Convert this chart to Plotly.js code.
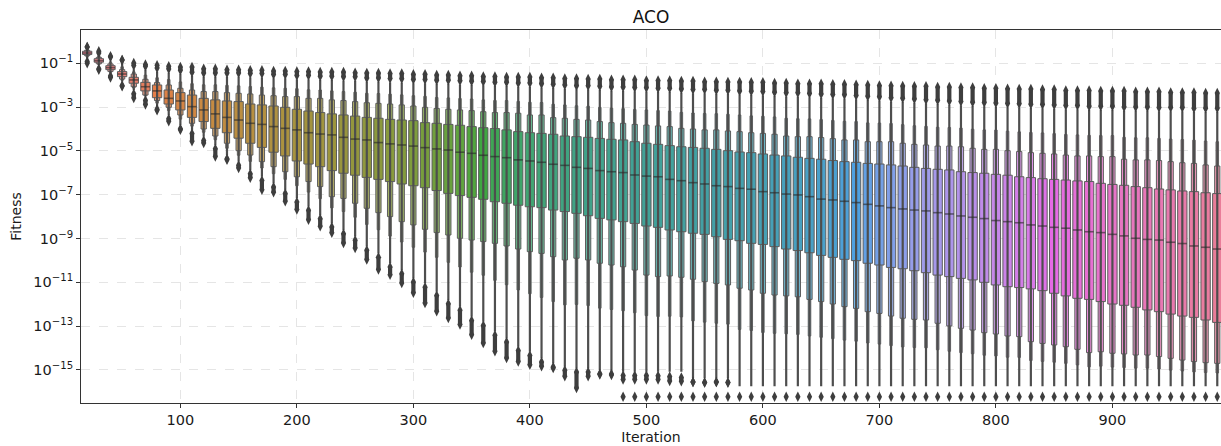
<!DOCTYPE html>
<html><head><meta charset="utf-8">
<script src="https://cdn.plot.ly/plotly-3.0.1.min.js"></script>
<style>html,body{margin:0;padding:0;background:#fff;}#chart{width:1221px;height:446px;}</style>
</head><body><div id="chart"></div>
<script>
// Iteration categories
const cats = [20,30,40,50,60,70,80,90,100,110,
 120,130,140,150,160,170,180,190,200,210,
 220,230,240,250,260,270,280,290,300,310,
 320,330,340,350,360,370,380,390,400,410,
 420,430,440,450,460,470,480,490,500,510,
 520,530,540,550,560,570,580,590,600,610,
 620,630,640,650,660,670,680,690,700,710,
 720,730,740,750,760,770,780,790,800,810,
 820,830,840,850,860,870,880,890,900,910,
 920,930,940,950,960,970,980,990];

// All values below are log10(Fitness)
const medianLog = [-0.53,-0.88,-1.20,-1.49,-1.76,-2.07,-2.26,-2.60,-2.72,-2.98,
 -3.13,-3.31,-3.47,-3.59,-3.74,-3.79,-3.89,-3.97,-4.04,-4.17,
 -4.23,-4.27,-4.38,-4.46,-4.50,-4.62,-4.68,-4.73,-4.78,-4.85,
 -4.91,-4.96,-5.06,-5.11,-5.20,-5.26,-5.31,-5.41,-5.46,-5.52,
 -5.61,-5.66,-5.75,-5.80,-5.90,-5.95,-5.99,-6.10,-6.15,-6.18,
 -6.30,-6.36,-6.45,-6.51,-6.59,-6.63,-6.71,-6.75,-6.86,-6.91,
 -6.97,-7.01,-7.09,-7.20,-7.24,-7.30,-7.36,-7.44,-7.51,-7.59,
 -7.65,-7.70,-7.74,-7.82,-7.88,-7.97,-8.03,-8.09,-8.18,-8.23,
 -8.28,-8.38,-8.43,-8.49,-8.53,-8.61,-8.69,-8.73,-8.81,-8.88,
 -8.99,-9.04,-9.07,-9.17,-9.23,-9.34,-9.40,-9.48];

const q3Log = [-0.45,-0.79,-1.11,-1.38,-1.64,-1.87,-1.99,-2.22,-2.34,-2.45,
 -2.60,-2.67,-2.72,-2.75,-2.86,-2.90,-2.95,-3.01,-3.10,-3.18,
 -3.25,-3.31,-3.36,-3.41,-3.47,-3.51,-3.56,-3.59,-3.62,-3.71,
 -3.74,-3.79,-3.83,-3.89,-3.94,-3.98,-4.04,-4.12,-4.17,-4.20,
 -4.24,-4.32,-4.35,-4.38,-4.43,-4.47,-4.50,-4.58,-4.65,-4.70,
 -4.76,-4.81,-4.84,-4.88,-4.93,-4.99,-5.05,-5.08,-5.14,-5.19,
 -5.23,-5.29,-5.34,-5.38,-5.44,-5.49,-5.52,-5.57,-5.60,-5.64,
 -5.69,-5.75,-5.80,-5.84,-5.87,-5.95,-5.99,-6.02,-6.07,-6.11,
 -6.18,-6.22,-6.27,-6.30,-6.33,-6.37,-6.40,-6.48,-6.53,-6.57,
 -6.63,-6.68,-6.74,-6.78,-6.83,-6.86,-6.91,-6.95];

const q1Log = [-0.60,-0.95,-1.29,-1.61,-1.91,-2.26,-2.57,-2.86,-3.13,-3.47,
 -3.66,-3.97,-4.17,-4.42,-4.65,-4.84,-5.06,-5.23,-5.46,-5.60,
 -5.72,-5.90,-6.02,-6.11,-6.21,-6.30,-6.40,-6.51,-6.59,-6.68,
 -6.81,-6.94,-7.04,-7.12,-7.21,-7.32,-7.39,-7.48,-7.55,-7.59,
 -7.70,-7.77,-7.85,-7.96,-8.08,-8.15,-8.23,-8.31,-8.43,-8.49,
 -8.61,-8.69,-8.76,-8.81,-8.92,-9.04,-9.10,-9.22,-9.27,-9.37,
 -9.48,-9.55,-9.65,-9.77,-9.86,-9.95,-10.01,-10.13,-10.21,-10.32,
 -10.38,-10.47,-10.56,-10.67,-10.74,-10.82,-10.89,-11.00,-11.12,-11.20,
 -11.24,-11.30,-11.38,-11.50,-11.62,-11.73,-11.78,-11.88,-11.99,-12.05,
 -12.14,-12.26,-12.34,-12.45,-12.54,-12.60,-12.72,-12.83];

// second letter value (12.5% / 87.5%)
const hi2Log = [-0.41,-0.73,-1.03,-1.29,-1.49,-1.73,-1.88,-1.99,-2.14,-2.22,
 -2.29,-2.29,-2.34,-2.37,-2.40,-2.45,-2.48,-2.52,-2.52,-2.60,
 -2.60,-2.67,-2.70,-2.75,-2.80,-2.83,-2.86,-2.90,-2.95,-3.01,
 -3.06,-3.10,-3.13,-3.16,-3.21,-3.25,-3.25,-3.28,-3.36,-3.36,
 -3.48,-3.51,-3.56,-3.59,-3.66,-3.71,-3.74,-3.79,-3.82,-3.86,
 -3.89,-3.97,-4.00,-4.04,-4.04,-4.09,-4.12,-4.17,-4.20,-4.24,
 -4.32,-4.35,-4.35,-4.39,-4.44,-4.50,-4.50,-4.58,-4.58,-4.58,
 -4.65,-4.70,-4.73,-4.78,-4.78,-4.81,-4.88,-4.93,-4.93,-4.99,
 -5.03,-5.08,-5.11,-5.14,-5.19,-5.23,-5.23,-5.26,-5.26,-5.38,
 -5.41,-5.41,-5.44,-5.49,-5.54,-5.57,-5.64,-5.69];

const lo2Log = [-0.65,-1.02,-1.37,-1.72,-2.07,-2.45,-2.70,-3.01,-3.36,-3.74,
 -4.00,-4.32,-4.65,-4.99,-5.19,-5.49,-5.72,-5.95,-6.18,-6.40,
 -6.63,-7.09,-7.17,-7.39,-7.62,-7.82,-8.00,-8.23,-8.38,-8.58,
 -8.73,-8.84,-8.99,-9.07,-9.14,-9.22,-9.34,-9.48,-9.60,-9.68,
 -9.83,-9.98,-9.90,-9.98,-10.13,-10.21,-10.29,-10.44,-10.67,-10.74,
 -10.71,-10.77,-10.86,-10.97,-11.05,-11.12,-11.27,-11.35,-11.50,-11.58,
 -11.62,-11.66,-11.78,-11.88,-11.99,-12.11,-12.19,-12.34,-12.42,-12.54,
 -12.64,-12.69,-12.72,-12.87,-12.99,-13.10,-13.18,-13.30,-13.36,-13.45,
 -13.48,-13.71,-13.79,-13.86,-13.94,-14.06,-14.21,-14.17,-14.24,-14.27,
 -14.32,-14.32,-14.39,-14.47,-14.55,-14.62,-14.67,-14.70];

// third letter value
const hi3Log = [-0.39,-0.68,-0.96,-1.16,-1.39,-1.54,-1.66,-1.74,-1.85,-1.93,
 -1.98,-1.98,-2.01,-2.03,-2.06,-2.09,-2.12,-2.14,-2.16,-2.21,
 -2.22,-2.26,-2.29,-2.32,-2.37,-2.38,-2.41,-2.44,-2.48,-2.51,
 -2.56,-2.58,-2.61,-2.63,-2.67,-2.70,-2.70,-2.74,-2.78,-2.79,
 -2.87,-2.90,-2.94,-2.96,-3.01,-3.05,-3.07,-3.11,-3.13,-3.16,
 -3.18,-3.24,-3.27,-3.29,-3.30,-3.33,-3.36,-3.40,-3.42,-3.45,
 -3.51,-3.53,-3.54,-3.57,-3.61,-3.65,-3.66,-3.72,-3.73,-3.75,
 -3.80,-3.85,-3.88,-3.92,-3.93,-3.96,-4.01,-4.04,-4.05,-4.10,
 -4.13,-4.16,-4.18,-4.21,-4.25,-4.27,-4.29,-4.30,-4.30,-4.38,
 -4.40,-4.40,-4.43,-4.46,-4.48,-4.51,-4.55,-4.58];

const lo3Log = [-0.70,-1.05,-1.41,-1.77,-2.13,-2.48,-2.82,-3.16,-3.55,-3.87,
 -4.15,-4.49,-4.88,-5.20,-5.48,-5.78,-6.04,-6.30,-6.59,-6.88,
 -7.18,-7.60,-7.77,-8.03,-8.36,-8.60,-8.89,-9.16,-9.40,-9.62,
 -9.86,-10.09,-10.30,-10.54,-10.68,-10.91,-11.11,-11.35,-11.52,-11.69,
 -11.88,-12.03,-12.01,-12.06,-12.18,-12.24,-12.30,-12.39,-12.52,-12.56,
 -12.55,-12.58,-12.76,-12.82,-12.87,-12.91,-13.15,-13.20,-13.29,-13.33,
 -13.35,-13.38,-13.45,-13.51,-13.57,-13.64,-13.69,-13.77,-13.82,-13.89,
 -13.95,-13.98,-13.99,-14.08,-14.15,-14.21,-14.26,-14.33,-14.36,-14.42,
 -14.43,-14.57,-14.61,-14.65,-14.70,-14.77,-14.86,-14.83,-14.87,-14.89,
 -14.92,-14.92,-14.96,-15.01,-15.05,-15.09,-15.12,-15.14];

// outermost letter values (ends of the thin tails)
const tailHiLog = [-0.36,-0.62,-0.88,-1.00,-1.27,-1.30,-1.38,-1.43,-1.49,-1.58,
 -1.61,-1.61,-1.61,-1.61,-1.64,-1.64,-1.68,-1.68,-1.73,-1.73,
 -1.76,-1.76,-1.79,-1.79,-1.84,-1.84,-1.87,-1.88,-1.91,-1.91,
 -1.94,-1.94,-1.97,-1.99,-2.00,-2.03,-2.03,-2.07,-2.07,-2.10,
 -2.13,-2.16,-2.19,-2.19,-2.22,-2.25,-2.25,-2.28,-2.29,-2.31,
 -2.31,-2.34,-2.37,-2.37,-2.40,-2.40,-2.43,-2.45,-2.46,-2.49,
 -2.52,-2.52,-2.55,-2.57,-2.60,-2.61,-2.64,-2.67,-2.70,-2.74,
 -2.77,-2.80,-2.83,-2.86,-2.89,-2.92,-2.95,-2.96,-2.98,-3.01,
 -3.02,-3.04,-3.05,-3.07,-3.10,-3.10,-3.13,-3.13,-3.13,-3.16,
 -3.16,-3.16,-3.19,-3.19,-3.19,-3.22,-3.22,-3.22];

const tailLoLog = [-0.77,-1.08,-1.46,-1.84,-2.22,-2.52,-2.98,-3.36,-3.82,-4.04,
 -4.35,-4.73,-5.19,-5.49,-5.87,-6.18,-6.48,-6.78,-7.16,-7.54,
 -7.93,-8.31,-8.61,-8.91,-9.37,-9.68,-10.13,-10.44,-10.82,-11.05,
 -11.43,-11.81,-12.11,-12.57,-12.80,-13.25,-13.56,-13.94,-14.17,-14.47,
 -14.70,-14.85,-14.93,-14.93,-15.00,-15.04,-15.08,-15.08,-15.08,-15.08,
 -15.08,-15.08,-15.38,-15.38,-15.38,-15.38,-15.75,-15.75,-15.75,-15.75,
 -15.75,-15.75,-15.75,-15.75,-15.75,-15.75,-15.75,-15.75,-15.75,-15.75,
 -15.75,-15.75,-15.75,-15.75,-15.75,-15.75,-15.75,-15.75,-15.75,-15.75,
 -15.75,-15.75,-15.75,-15.75,-15.75,-15.75,-15.75,-15.75,-15.75,-15.75,
 -15.75,-15.75,-15.75,-15.75,-15.75,-15.75,-15.75,-15.75];

// upper outliers: highest and lowest
const outHiMaxLog = [-0.26,-0.45,-0.68,-0.85,-0.99,-1.05,-1.09,-1.14,-1.17,-1.17,
 -1.25,-1.25,-1.29,-1.29,-1.32,-1.32,-1.35,-1.35,-1.37,-1.37,
 -1.40,-1.40,-1.40,-1.43,-1.44,-1.44,-1.47,-1.47,-1.50,-1.50,
 -1.54,-1.54,-1.57,-1.57,-1.60,-1.60,-1.63,-1.63,-1.63,-1.66,
 -1.66,-1.69,-1.69,-1.72,-1.72,-1.75,-1.75,-1.75,-1.78,-1.78,
 -1.78,-1.81,-1.81,-1.84,-1.84,-1.85,-1.85,-1.87,-1.87,-1.90,
 -1.90,-1.93,-1.93,-1.93,-1.96,-1.96,-1.98,-1.99,-2.01,-2.02,
 -2.04,-2.05,-2.05,-2.08,-2.08,-2.11,-2.11,-2.14,-2.14,-2.16,
 -2.17,-2.17,-2.20,-2.20,-2.24,-2.24,-2.24,-2.27,-2.27,-2.27,
 -2.30,-2.30,-2.30,-2.33,-2.33,-2.33,-2.36,-2.36];

const outHiMinLog = [-0.26,-0.53,-0.71,-0.85,-1.10,-1.13,-1.21,-1.26,-1.32,-1.41,
 -1.44,-1.44,-1.44,-1.44,-1.47,-1.47,-1.51,-1.51,-1.56,-1.56,
 -1.59,-1.59,-1.62,-1.62,-1.67,-1.67,-1.70,-1.71,-1.74,-1.74,
 -1.77,-1.77,-1.80,-1.82,-1.83,-1.86,-1.86,-1.90,-1.90,-1.93,
 -1.96,-1.99,-2.02,-2.02,-2.05,-2.08,-2.08,-2.11,-2.12,-2.14,
 -2.14,-2.17,-2.20,-2.20,-2.23,-2.23,-2.26,-2.28,-2.29,-2.32,
 -2.35,-2.35,-2.38,-2.40,-2.43,-2.44,-2.47,-2.50,-2.53,-2.57,
 -2.60,-2.63,-2.66,-2.69,-2.72,-2.75,-2.78,-2.79,-2.81,-2.84,
 -2.85,-2.87,-2.88,-2.90,-2.93,-2.93,-2.96,-2.96,-2.96,-2.99,
 -2.99,-2.99,-3.02,-3.02,-3.02,-3.05,-3.05,-3.05];

// lower outliers: highest and lowest (null where none)
const outLoMaxLog = [-0.92,-1.25,-1.58,-2.01,-2.39,-2.69,-3.10,-3.53,-3.99,-4.21,
 -4.52,-4.90,-5.36,-5.66,-6.04,-6.35,-6.65,-6.95,-7.33,-7.71,
 -8.10,-8.48,-8.78,-9.08,-9.54,-9.85,-10.30,-10.61,-10.99,-11.22,
 -11.60,-11.98,-12.28,-12.74,-12.97,-13.42,-13.73,-14.11,-14.34,-14.64,
 -14.87,-15.02,-15.10,-15.10,-15.17,-15.19,-15.25,-15.25,-15.25,-15.27,
 -15.30,-15.35,-15.55,-15.57,-15.55,-15.57,null,null,null,null,
 null,null,null,null,null,null,null,null,null,null,
 null,null,null,null,null,null,null,null,null,null,
 null,null,null,null,null,null,null,null,null,null,
 null,null,null,null,null,null,null,null];

const outLoMinLog = [-1.00,-1.29,-1.65,-2.05,-2.58,-2.88,-3.14,-3.65,-4.03,-4.56,
 -4.64,-5.25,-5.40,-5.78,-6.23,-6.77,-6.89,-7.30,-7.68,-8.14,
 -8.44,-8.74,-9.20,-9.43,-9.96,-10.42,-10.65,-11.03,-11.48,-11.94,
 -12.32,-12.63,-12.93,-13.39,-13.77,-14.15,-14.45,-14.61,-14.76,-14.83,
 -14.91,-15.29,-15.82,-15.29,-15.21,-15.23,-15.44,-15.44,-15.44,-15.44,
 -15.50,-15.52,-15.55,-15.57,-15.55,-15.57,null,null,null,null,
 null,null,null,null,null,null,null,null,null,null,
 null,null,null,null,null,null,null,null,null,null,
 null,null,null,null,null,null,null,null,null,null,
 null,null,null,null,null,null,null,null];

// isolated lowest outlier (floor value)
const floorLog = [null,null,null,null,null,null,null,null,null,null,
 null,null,null,null,null,null,null,null,null,null,
 null,null,null,null,null,null,null,null,null,null,
 null,null,null,null,null,null,null,null,null,null,
 null,null,null,null,null,null,-16.22,-16.22,-16.22,-16.22,
 -16.22,-16.22,-16.22,-16.22,-16.22,-16.22,-16.22,-16.22,-16.22,-16.22,
 -16.22,-16.22,-16.22,-16.22,-16.22,-16.22,-16.22,-16.22,-16.22,-16.22,
 -16.22,-16.22,-16.22,-16.22,-16.22,-16.22,-16.22,-16.22,-16.22,-16.22,
 -16.22,-16.22,-16.22,-16.22,-16.22,-16.22,-16.22,-16.22,-16.22,-16.22,
 -16.22,-16.22,-16.22,-16.22,-16.22,-16.22,-16.22,-16.22];

const yTickExp = [-1,-3,-5,-7,-9,-11,-13,-15];
const xTicks = [100,200,300,400,500,600,700,800,900];

// ---------- colours: seaborn husl palette, desaturated 0.75 ----------
const M = [[3.2406,-1.5372,-0.4986],[-0.9689,1.8758,0.0415],[0.0557,-0.2040,1.0570]];
function maxChroma(L,H){
  const hr=H*Math.PI/180, sH=Math.sin(hr), cH=Math.cos(hr);
  const sub1=Math.pow(L+16,3)/1560896, sub2=sub1>0.008856?sub1:L/903.3;
  let res=Infinity;
  for(const [m1,m2,m3] of M){
    const top=(0.99915*m1+1.05122*m2+1.14460*m3)*sub2;
    const rb=0.86330*m3-0.17266*m2, lb=0.12949*m3-0.38848*m1;
    const bottom=(rb*sH+lb*cH)*sub2;
    for(const t of [0,1]){
      const C=L*(top-1.05122*t)/(bottom+0.17266*sH*t);
      if(C>0&&C<res) res=C;
    }
  }
  return res;
}
function huslToRgb(H,S,L){
  const C=maxChroma(L,H)/100*S, hr=H*Math.PI/180;
  const U=Math.cos(hr)*C, V=Math.sin(hr)*C;
  const t=(L+16)/116, Y=Math.pow(t,3)>0.008856?Math.pow(t,3):(116*t-16)/903.3;
  const vU=U/(13*L)+0.19784, vV=V/(13*L)+0.46834;
  const X=-(9*Y*vU)/((vU-4)*vV-vU*vV);
  const Z=(9*Y-15*vV*Y-vV*X)/(3*vV);
  return M.map(r=>{const c=r[0]*X+r[1]*Y+r[2]*Z;const v=c<=0.0031308?12.92*c:1.055*Math.pow(c,1/2.4)-0.055;return Math.min(1,Math.max(0,v));});
}
function hslToRgb(h,s,l){
  const q=l<0.5?l*(1+s):l+s-l*s, p=2*l-q;
  const f=t=>{t=((t%1)+1)%1;if(t<1/6)return p+(q-p)*6*t;if(t<0.5)return q;if(t<2/3)return p+(q-p)*(2/3-t)*6;return p;};
  return [f(h+1/3),f(h),f(h-1/3)];
}
function desat(rgb,prop){
  const [r,g,b]=rgb, mx=Math.max(r,g,b), mn=Math.min(r,g,b), l=(mx+mn)/2;
  if(mx===mn) return rgb.slice();
  const d=mx-mn, s=l<=0.5?d/(mx+mn):d/(2-mx-mn);
  let h; if(mx===r)h=((g-b)/d)/6; else if(mx===g)h=(2+(b-r)/d)/6; else h=(4+(r-g)/d)/6;
  h=((h%1)+1)%1;
  return hslToRgb(h,s*prop,l);
}
const mixW=(rgb,t)=>rgb.map(v=>v+(1-v)*t);
const css=rgb=>'rgb('+rgb.map(v=>Math.round(v*255)).join(',')+')';
const N=cats.length;
const baseCol=cats.map((c,i)=>desat(huslToRgb((((i/N)+0.01)%1)*359,89.1,64.35),0.8));
const col1=baseCol.map(css), col2=baseCol.map(c=>css(mixW(c,0.22))), col3=baseCol.map(c=>css(mixW(c,0.45)));

const p10=v=>(v===null?null:Math.pow(10,v));
const EDGE='#5c5c5c', DARK='#3e3e3e';

function levelBars(lo,hi,w,colors,lw){
  return {type:'bar',x:cats,base:lo.map(p10),y:hi.map((h,i)=>p10(h)-p10(lo[i])),width:w,
    marker:{color:colors,line:{color:EDGE,width:lw}},hoverinfo:'skip',showlegend:false};
}
function segs(aArr,bArr,dx){
  const xs=[],ys=[];
  cats.forEach((c,i)=>{ if(aArr[i]===null||bArr[i]===null) return;
    if(dx){xs.push(c-dx,c+dx,null);ys.push(p10(aArr[i]),p10(aArr[i]),null);}
    else{xs.push(c,c,null);ys.push(p10(aArr[i]),p10(bArr[i]),null);} });
  return {xs,ys};
}
const tails=segs(tailLoLog,tailHiLog);
const meds=segs(medianLog,medianLog,3.9);
const oHi=segs(outHiMaxLog,outHiMinLog);
const oLo=segs(outLoMaxLog,outLoMinLog);
const fl={x:[],y:[]}; cats.forEach((c,i)=>{if(floorLog[i]!==null){fl.x.push(c);fl.y.push(p10(floorLog[i]));}});

const diamond={symbol:'diamond-tall',size:7.5,color:DARK,line:{width:0}};
const traces=[
  {type:'scatter',mode:'lines',x:tails.xs,y:tails.ys,line:{color:'#4e4e4e',width:2.2},hoverinfo:'skip',showlegend:false},
  levelBars(lo3Log,hi3Log,2.2,col3,0.9),
  levelBars(lo2Log,hi2Log,4.5,col2,1.0),
  levelBars(q1Log,q3Log,8,col1,1.0),
  {type:'scatter',mode:'lines',x:meds.xs,y:meds.ys,line:{color:'rgba(38,38,38,0.6)',width:1.6},hoverinfo:'skip',showlegend:false},
  {type:'scatter',mode:'lines+markers',x:oHi.xs,y:oHi.ys,line:{color:DARK,width:4.2},marker:diamond,hoverinfo:'skip',showlegend:false},
  {type:'scatter',mode:'lines+markers',x:oLo.xs,y:oLo.ys,line:{color:DARK,width:4.2},marker:diamond,hoverinfo:'skip',showlegend:false},
  {type:'scatter',mode:'markers',x:fl.x,y:fl.y,marker:diamond,hoverinfo:'skip',showlegend:false}
];

const layout={
  width:1221,height:446,
  margin:{l:81,r:0,t:30,b:43,pad:0},
  paper_bgcolor:'#ffffff',plot_bgcolor:'#ffffff',
  barmode:'overlay',showlegend:false,
  font:{family:'DejaVu Sans, sans-serif',size:14,color:'#1a1a1a'},
  title:{text:'ACO',font:{size:17,color:'#111'},x:0.5,xref:'paper',xanchor:'center',y:1-17/446,yref:'container',yanchor:'middle'},
  xaxis:{range:[14.7,993.2],tickmode:'array',tickvals:xTicks,ticks:'outside',ticklen:4,tickwidth:1,tickcolor:'#333',
    tickfont:{size:14.5},
    showline:true,linecolor:'#333',linewidth:1,mirror:true,showgrid:true,gridcolor:'#dedede',griddash:'dash',gridwidth:0.8,
    zeroline:false,title:{text:'Iteration',font:{size:14},standoff:4}},
  yaxis:{type:'log',range:[-16.51,0.52],tickmode:'array',tickvals:yTickExp.map(e=>Math.pow(10,e)),
    ticktext:yTickExp.map(e=>'10<sup>\u2212'+(-e)+'</sup>'),ticks:'outside',ticklen:4,tickwidth:1,tickcolor:'#333',
    tickfont:{size:14.5},
    showline:true,linecolor:'#333',linewidth:1,showgrid:true,gridcolor:'#dedede',griddash:'dash',gridwidth:0.8,
    zeroline:false,title:{text:'Fitness',font:{size:14},standoff:8}}
};
Plotly.newPlot('chart',traces,layout,{displayModeBar:false,staticPlot:true});
</script></body></html>
